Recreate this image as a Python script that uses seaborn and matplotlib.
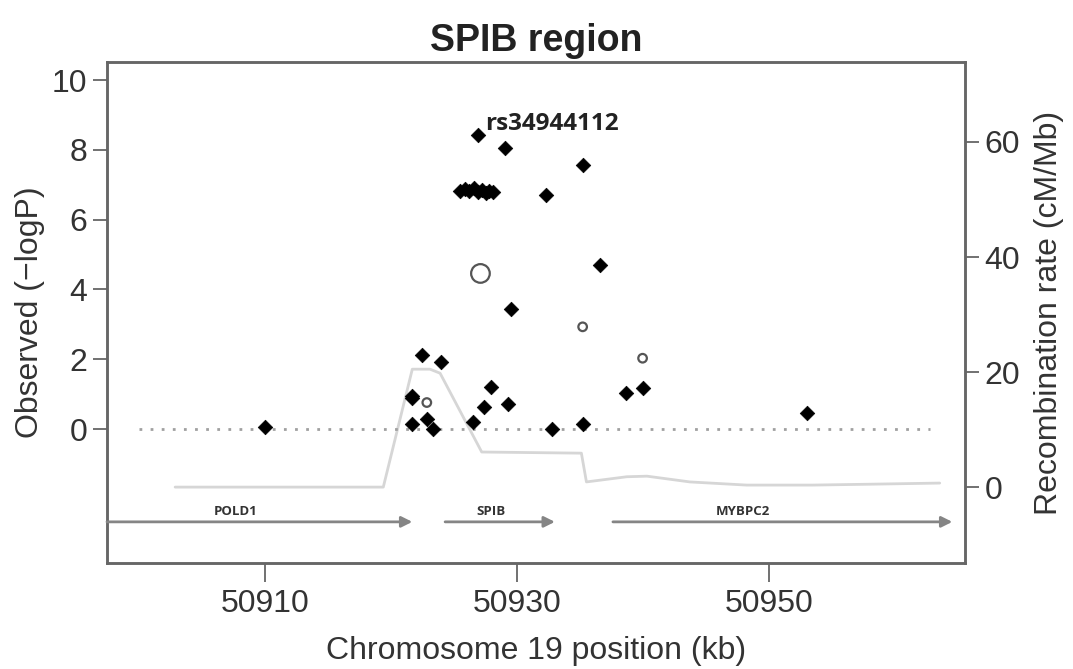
import numpy as np
import pandas as pd
import matplotlib
matplotlib.use("Agg")
import matplotlib.pyplot as plt
import seaborn as sns

# SNP results, filled diamonds (position in kb, -log10 P)
snp_pos = [50910.0, 50921.7, 50921.7, 50922.5, 50924.0, 50921.7, 50922.85, 50923.3,
           50926.5, 50927.4, 50927.9, 50929.3, 50932.8, 50935.25, 50938.6, 50939.95,
           50953.0, 50926.9, 50929.05, 50935.25, 50932.3, 50936.6, 50929.5,
           50925.49, 50925.88, 50926.2, 50926.6, 50926.91, 50927.23, 50927.55,
           50927.78, 50928.1]
snp_logp = [0.05, 0.95, 0.88, 2.12, 1.93, 0.14, 0.28, 0.0,
            0.19, 0.62, 1.21, 0.72, 0.0, 0.14, 1.04, 1.17,
            0.47, 8.44, 8.06, 7.56, 6.72, 4.71, 3.44,
            6.82, 6.88, 6.82, 6.91, 6.79, 6.85, 6.76,
            6.82, 6.79]

# open circles
open_pos = [50922.85, 50927.1, 50935.2, 50939.95]
open_logp = [0.76, 4.46, 2.93, 2.03]
open_kind = ["small", "large", "small", "small"]

# recombination rate (cM/Mb)
rec_pos = [50902.9, 50919.4, 50921.7, 50923.1, 50923.9, 50927.2, 50935.1, 50935.5,
           50938.7, 50940.3, 50943.7, 50948.2, 50953.4, 50957.9, 50963.5]
rec_rate = [0.0, 0.0, 20.5, 20.5, 19.8, 6.1, 5.9, 0.9,
            1.8, 1.9, 0.9, 0.35, 0.35, 0.5, 0.7]

# genes
gene_names = ["POLD1", "SPIB", "MYBPC2"]
gene_start = [50897.5, 50924.3, 50937.6]
gene_end = [50921.7, 50933.0, 50964.5]
gene_label_pos = [50907.7, 50927.9, 50947.9]

top_snp = "rs34944112"
top_pos = 50926.9
top_logp = 8.44

df_snp = pd.DataFrame({"pos": snp_pos, "logp": snp_logp})
df_open = pd.DataFrame({"pos": open_pos, "logp": open_logp, "kind": open_kind})
df_rec = pd.DataFrame({"pos": rec_pos, "rate": rec_rate})

sns.set_theme(style="white")
plt.rcParams['font.family'] = ['Liberation Sans', 'DejaVu Sans']

fig = plt.figure(figsize=(10.73, 6.69), dpi=100)
ax = fig.add_axes([0.0997, 0.1584, 0.7996, 0.7489])
ax2 = ax.twinx()

# recombination line behind the points
sns.lineplot(data=df_rec, x="pos", y="rate", ax=ax2, color="#d6d6d6", linewidth=2)
ax.set_zorder(ax2.get_zorder() + 1)
ax.patch.set_visible(False)

ax.hlines(0, 50900, 50962.7, colors="#a0a0a0", linewidth=2, linestyles=(0, (1, 3)))

sns.scatterplot(data=df_snp, x="pos", y="logp", ax=ax, marker="D", s=55,
                color="black", edgecolor="black", linewidth=0.5, zorder=3)
sns.scatterplot(data=df_open, x="pos", y="logp", ax=ax, size="kind",
                sizes={"small": 38, "large": 180}, marker="o",
                facecolor="none", edgecolor="#555555", linewidth=1.6,
                legend=False, zorder=3)

ax.text(top_pos + 0.55, top_logp + 0.3, top_snp, fontsize=17.5, fontweight="bold",
        family=["Open Sans", "DejaVu Sans"], color="#222222", ha="left", va="center")

gene_y = -2.66
for name, s0, s1, lp in zip(gene_names, gene_start, gene_end, gene_label_pos):
    ax.annotate("", xy=(s1, gene_y), xytext=(s0, gene_y),
                arrowprops=dict(arrowstyle="-|>", color="#858585", lw=2,
                                mutation_scale=16, shrinkA=0, shrinkB=0))
    ax.text(lp, gene_y + 0.3, name, fontsize=9.5, fontweight="bold",
            family=["Open Sans", "DejaVu Sans"], color="#333333",
            ha="center", va="center")

ax.set_xlim(50897.5, 50965.5)
ax.set_ylim(-3.84, 10.52)
ax2.set_ylim(-13.2, 73.9)

ax.set_xticks([50910, 50930, 50950])
ax.set_yticks([0, 2, 4, 6, 8, 10])
ax2.set_yticks([0, 20, 40, 60])

for a in (ax, ax2):
    for sp in a.spines.values():
        sp.set_color("#666666")
        sp.set_linewidth(1.8)
    a.tick_params(length=10, width=1.3, color="#666666", labelsize=23,
                  labelcolor="#333333", pad=4)
ax.tick_params(axis="x", length=14, pad=5)
ax.tick_params(axis="both", bottom=True, left=True, right=False, top=False)
ax2.tick_params(axis="y", right=True, left=False)

ax.set_xlabel("Chromosome 19 position (kb)", fontsize=23, color="#333333", labelpad=12)
ax.set_ylabel("Observed (\u2212logP)", fontsize=23, color="#333333", labelpad=5)
ax2.set_ylabel("Recombination rate (cM/Mb)", fontsize=23, color="#333333", labelpad=10)
ax.set_title("SPIB region", fontsize=27, fontweight="bold", color="#222222", pad=8)

fig.savefig("out.png", dpi=100)
